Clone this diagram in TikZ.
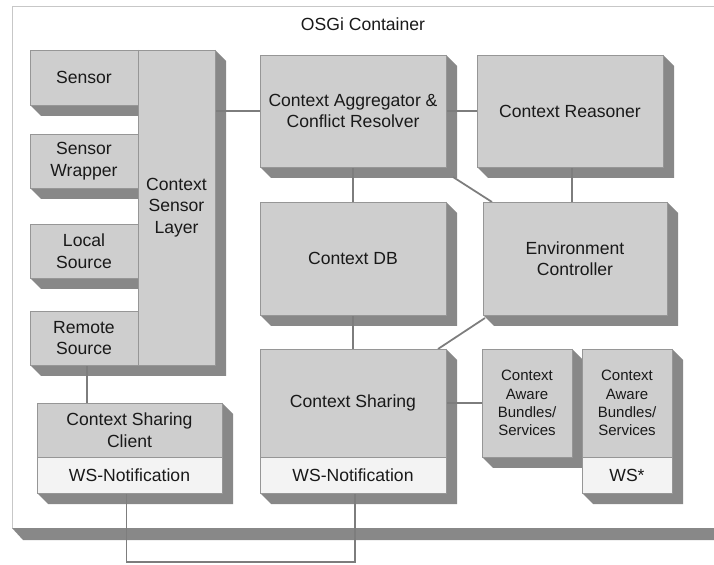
\documentclass[tikz,border=0pt]{standalone}
\usepackage{fontspec}
\setmainfont{Liberation Sans}
\usetikzlibrary{calc, positioning}
\pgfdeclarelayer{back}
\pgfdeclarelayer{wires}
\pgfsetlayers{back,wires,main}
\definecolor{boxgray}{RGB}{206,206,206}
\definecolor{shadegray}{RGB}{136,136,136}
\definecolor{lightpart}{RGB}{243,243,243}
\definecolor{edgegray}{RGB}{150,150,150}
\definecolor{linegray}{RGB}{125,125,125}
\tikzset{
    size/.style 2 args={minimum width=#1*0.03cm, minimum height=#2*0.03cm}
}

\begin{document}
\begin{tikzpicture}[
    x=0.03cm, y=-0.03cm,
    box/.style={rectangle, draw=edgegray, fill=boxgray, line width=0.5pt, anchor=north west, inner sep=0pt, outer sep=0pt, align=center, text=black!90, font=\fontsize{15}{18.4}\selectfont},
    wspart/.style={box, fill=lightpart},
    small/.style={font=\fontsize{12.8}{15.6}\selectfont},
    link/.style={draw=linegray, line width=1.5pt},
    shade/.style={fill=shadegray}
]
    \useasboundingbox (0,0) rectangle (714,565);

    % container
    \begin{pgfonlayer}{back}
        \fill[white] (0,0) rectangle (714,565);
        \fill[shade] (12,528) -- (23,540) -- (714,540) -- (714,528) -- cycle;
        \draw[black!22, line width=0.8pt] (12,528) -- (12,6) -- (714,6);
    \end{pgfonlayer}
    \node[font=\fontsize{15}{18.4}\selectfont, text=black!90] (title) at (363,24) {OSGi Container};

    % sensor side
    \node[box, size={108}{55}] (sensor) at (30,50) {Sensor};
    \node[box, size={108}{54}] (wrapper) at (30,134) {Sensor\\Wrapper};
    \node[box, size={108}{54}] (local) at (30,224) {Local\\Source};
    \node[box, size={108}{54}] (remote) at (30,311) {Remote\\Source};
    \node[box, size={77}{315}] (layer) at (138,50) {Context\\Sensor\\Layer};
    \node[box, size={185}{54}] (client) at (37,403) {Context Sharing\\Client};
    \node[wspart, size={185}{36}] (clientws) at (37,457) {WS-Notification};

    % core
    \node[box, size={186}{112}] (agg) at (260,55) {Context Aggregator \&\\Conflict Resolver};
    \node[box, size={186}{112}] (reasoner) at (477,55) {Context Reasoner};
    \node[box, size={186}{113}] (db) at (260,202) {Context DB};
    \node[box, size={184}{113}] (env) at (483,202) {Environment\\Controller};
    \node[box, size={186}{108}] (share) at (260,349) {Context Sharing};
    \node[wspart, size={186}{36}] (sharews) at (260,457) {WS-Notification};

    % bundles
    \node[box, small, size={90}{108}] (aware) at (482,349) {Context\\Aware\\Bundles/\\Services};
    \node[box, small, size={90}{108}] (awaretwo) at (582,349) {Context\\Aware\\Bundles/\\Services};
    \node[wspart, size={90}{36}] (wsstar) at (582,457) {WS*};

    % 3d shadows
    \begin{pgfonlayer}{back}
        \foreach \a/\b in {sensor/sensor, wrapper/wrapper, local/local, remote/remote, layer/layer,
                          client/clientws, agg/agg, reasoner/reasoner, db/db, env/env,
                          share/sharews, aware/aware, awaretwo/wsstar}
            \fill[shade] (\a.north east) -- ++(11,11) |- ($(\b.south west)+(11,11)$)
                -- (\b.south west) -- (\b.south east) -- cycle;
    \end{pgfonlayer}

    % connectors
    \begin{pgfonlayer}{wires}
        \draw[link] (agg.west -| layer.east) -- (agg.west);
        \draw[link] (agg.east) -- (reasoner.west);
        \draw[link] (agg.south) -- (db.north);
        \draw[link] ($(agg.south east)+(7,10)$) -- ($(env.north west)+(9,0)$);
        \draw[link] (reasoner.south -| 572,0) -- (env.north -| 572,0);
        \draw[link] (db.south) -- (share.north);
        \draw[link] ($(env.south west)+(2,3)$) -- ($(share.north east)+(-8,0)$);
        \draw[link] (share.east) -- (aware.west);
        \draw[link] ($(remote.south)+(3,0)$) -- ($(remote.south |- client.north)+(3,0)$);
        \draw[link] ($(clientws.south)+(-3,0)$) -- ++(0,69) -| ($(sharews.south)+(2,0)$);
    \end{pgfonlayer}
\end{tikzpicture}
\end{document}
